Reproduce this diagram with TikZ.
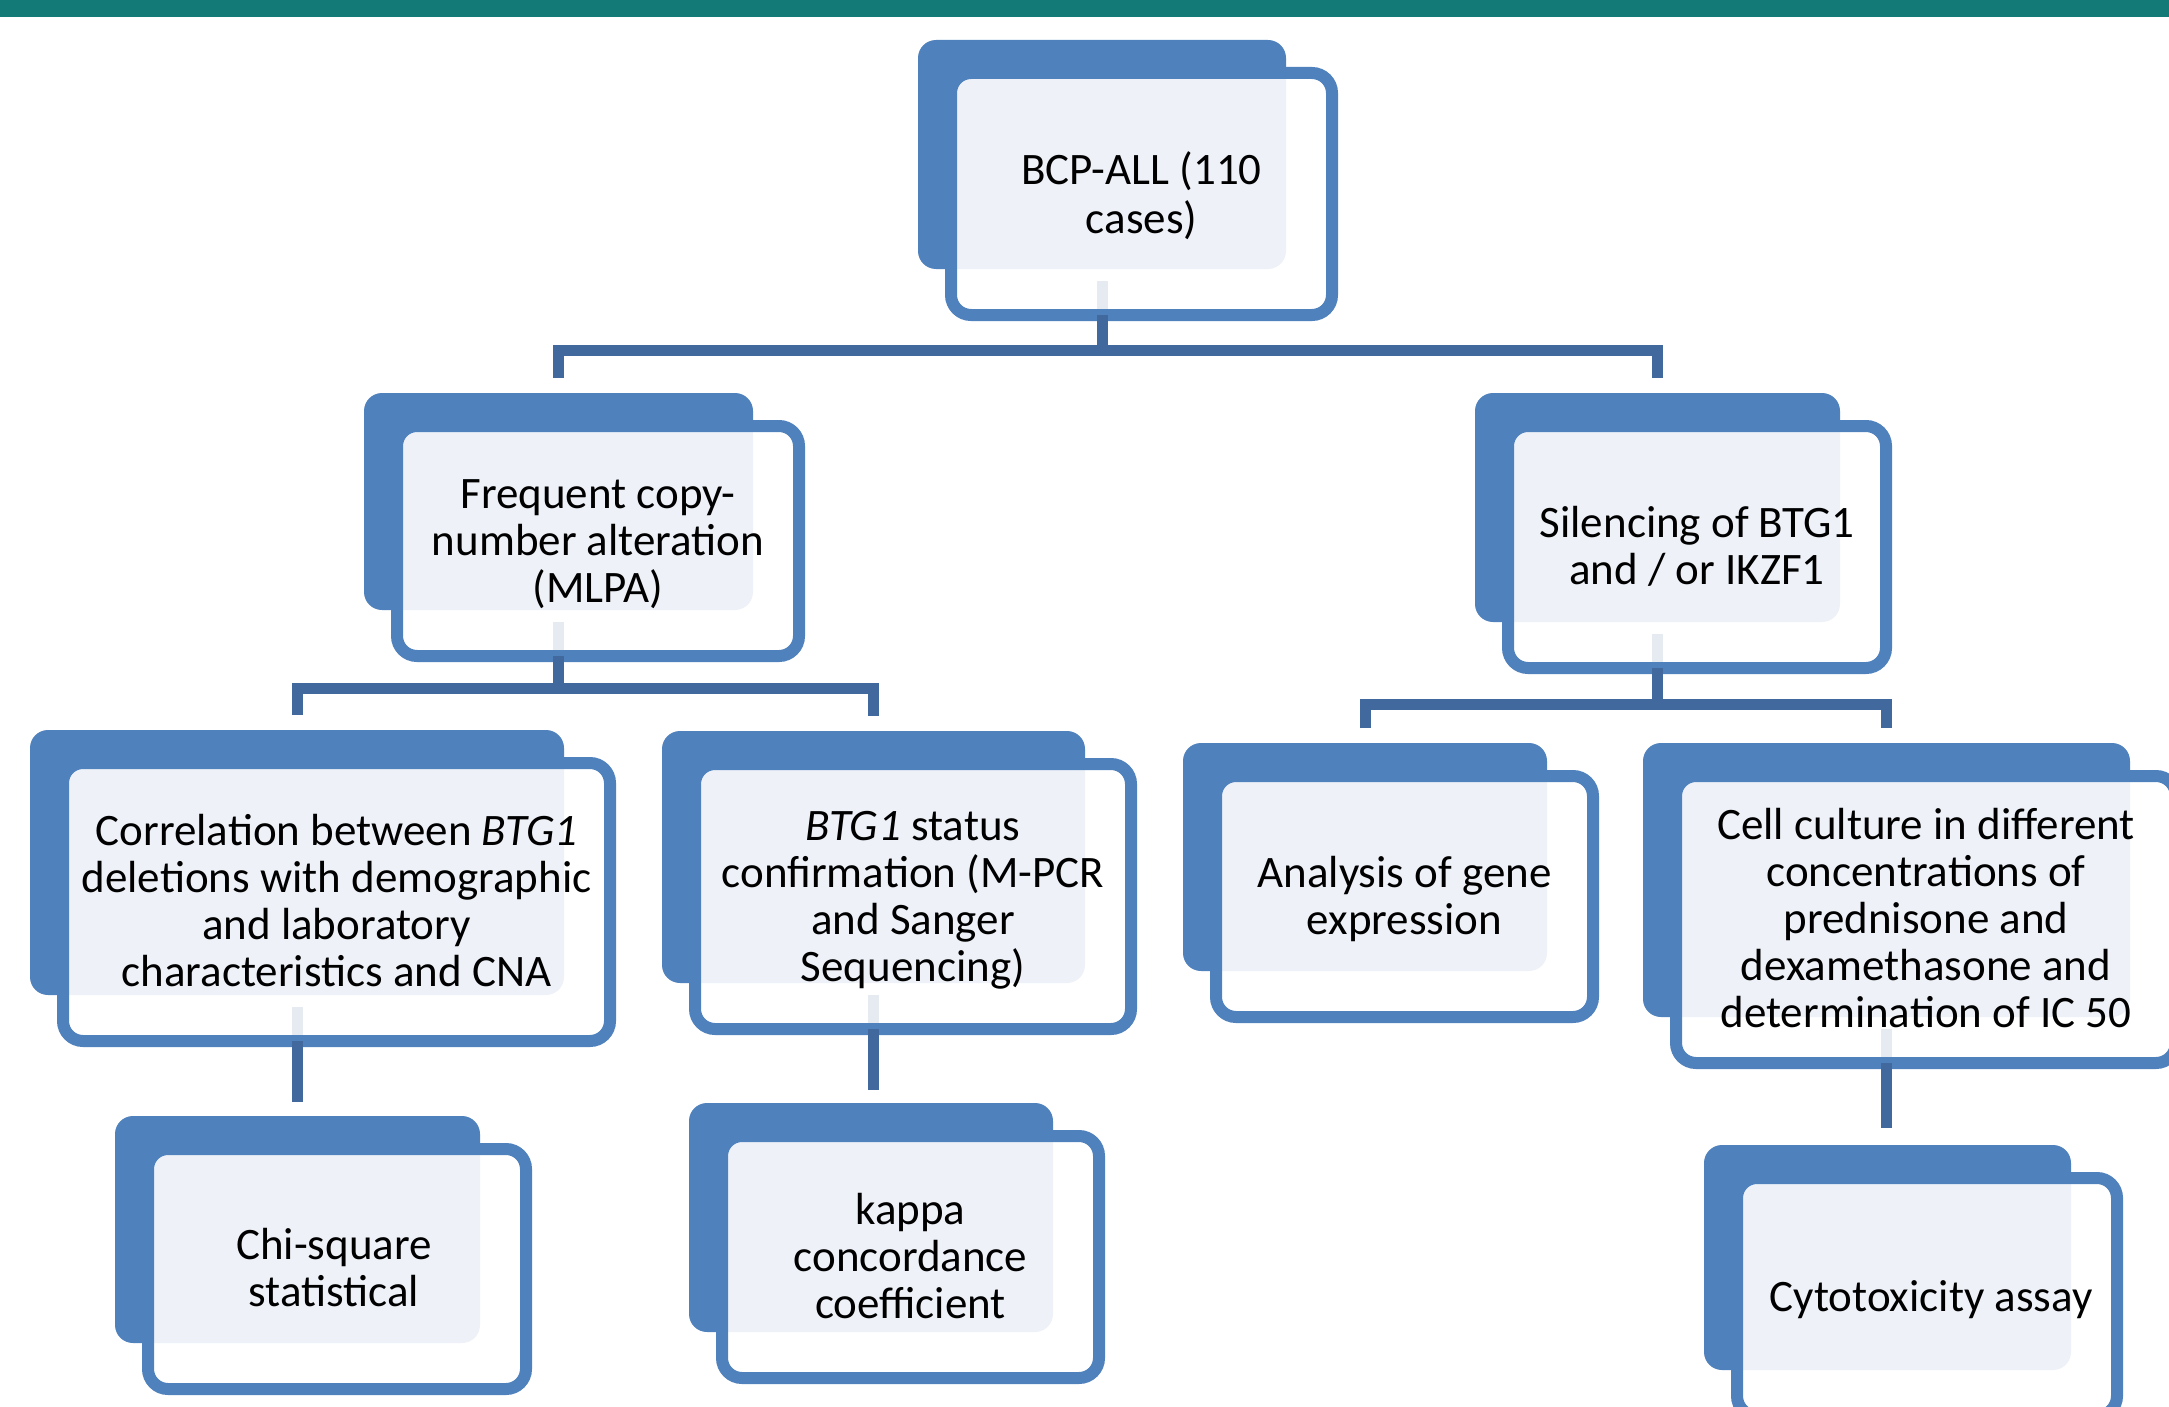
\documentclass[tikz,border=0pt]{standalone}
\usepackage{fontspec}
\setmainfont{Carlito}
\usetikzlibrary{calc}
\definecolor{boxblue}{HTML}{4F81BD}
\definecolor{lightfill}{HTML}{EEF2F8}
\definecolor{connblue}{HTML}{41699E}
\definecolor{stubgray}{HTML}{E6EAF1}
\definecolor{topteal}{HTML}{137A78}
\tikzset{
  backbox/.style={fill=boxblue, rounded corners=18pt, inner sep=0pt, outer sep=0pt, draw=none},
  frontbox/.style={fill=white, rounded corners=20pt, inner sep=0pt, outer sep=0pt, draw=none},
  frontline/.style={draw=boxblue, line width=12pt, rounded corners=20pt},
  lbl/.style={font=\fontsize{45}{47}\selectfont, align=center, text=black, inner sep=0pt, yshift=-5pt},
  conn/.style={draw=connblue, line width=11pt, line join=miter},
  stub/.style={draw=stubgray, line width=11pt},
}
% #1 name, #2 x1, #3 y1, #4 x2, #5 y2 (back panel)
\newcommand\mkbox[5]{%
  \node[backbox, minimum width={(#4-#2)*1pt}, minimum height={(#5-#3)*1pt}] (#1b) at ({(#2+#4)/2},{(#3+#5)/2}) {};
  \node[frontbox, minimum width={(#4-#2+13)*1pt}, minimum height={(#5-#3+13)*1pt}] (#1) at ({(#2+#4)/2+39.5},{(#3+#5)/2+39.5}) {};
  \begin{scope}
    \clip[rounded corners=20pt] (#1.north west) rectangle (#1.south east);
    \fill[lightfill, rounded corners=18pt] (#1b.north west) rectangle (#1b.south east);
  \end{scope}}
\newcommand\mkstub[1]{%
  \draw[stub] ($(#1b.south)+(0,12)$) -- (#1b.south |- #1.south);}
\newcommand\mkline[1]{%
  \draw[frontline] (#1.north west) rectangle (#1.south east);}
\begin{document}
\begin{tikzpicture}[x=1pt,y=-1pt]
\clip (0,0) rectangle (2169,1407);
\fill[white] (0,0) rectangle (2169,1407);
\fill[topteal] (0,0) rectangle (2169,17);

% boxes
\mkbox{top}{918}{40}{1286}{269}
\mkstub{top}\mkline{top}
\mkbox{freq}{364}{393}{753}{610}
\mkstub{freq}\mkline{freq}
\mkbox{sil}{1475}{393}{1840}{622}
\mkstub{sil}\mkline{sil}
\mkbox{corr}{30}{730}{564}{995}
\mkstub{corr}\mkline{corr}
\mkbox{btg}{662}{731}{1085}{983}
\mkstub{btg}\mkline{btg}
\mkbox{anal}{1183}{743}{1547}{971}
\mkline{anal}
\mkbox{cell}{1643}{743}{2130}{1017}
\mkstub{cell}\mkline{cell}
\mkbox{chi}{115}{1116}{480}{1343}
\mkline{chi}
\mkbox{kappa}{689}{1103}{1053}{1332}
\mkline{kappa}
\mkbox{cyto}{1704}{1145}{2071}{1370}
\mkline{cyto}

% labels
\node[lbl, font=\fontsize{45}{50}\selectfont] (topt) at (top) {\strut BCP-ALL (110\\cases)\strut};
\node[lbl] (freqt) at (freq) {\strut Frequent copy-\\number alteration\\(MLPA)\strut};
\node[lbl] (silt) at (sil) {\strut Silencing of BTG1\\and / or IKZF1\strut};
\node[lbl] (corrt) at (corr) {\strut Correlation between \textit{BTG1}\\deletions with demographic\\and laboratory\\characteristics and CNA\strut};
\node[lbl] (btgt) at (btg) {\strut\textit{BTG1} status\\confirmation (M-PCR\\and Sanger\\Sequencing)\strut};
\node[lbl] (analt) at (anal) {\strut Analysis of gene\\expression\strut};
\node[lbl] (cellt) at (cell) {\strut Cell culture in different\\concentrations of\\prednisone and\\dexamethasone and\\determination of IC 50\strut};
\node[lbl] (chit) at ($(chi)+(-3,0)$) {\strut Chi-square\\statistical\strut};
\node[lbl] (kappat) at (kappa) {\strut kappa\\concordance\\coefficient\strut};
\node[lbl] (cytot) at ($(cyto)+(4,0)$) {\strut Cytotoxicity assay\strut};

% connectors
\coordinate (j0) at (topb.south |- 0,350);
\draw[conn] (topb.south |- top.south) -- (j0);
\draw[conn] ($(freqb.north)+(0,-15)$) |- (j0) -| ($(silb.north)+(0,-15)$);

\coordinate (j1) at (freqb.south |- 0,688);
\draw[conn] (freqb.south |- freq.south) -- (j1);
\draw[conn] ($(corrb.north)+(0,-15)$) |- (j1) -| ($(btgb.north)+(0,-15)$);

\coordinate (j2) at (silb.south |- 0,704);
\draw[conn] (silb.south |- sil.south) -- (j2);
\draw[conn] ($(analb.north)+(0,-15)$) |- (j2) -| ($(cellb.north)+(0,-15)$);

\draw[conn] (corrb.south |- corr.south) -- ($(corrb.south |- chib.north)+(0,-14)$);
\draw[conn] (btgb.south |- btg.south) -- ($(btgb.south |- kappab.north)+(0,-13)$);
\draw[conn] (cellb.south |- cell.south) -- ($(cellb.south |- cytob.north)+(0,-17)$);
\end{tikzpicture}
\end{document}
